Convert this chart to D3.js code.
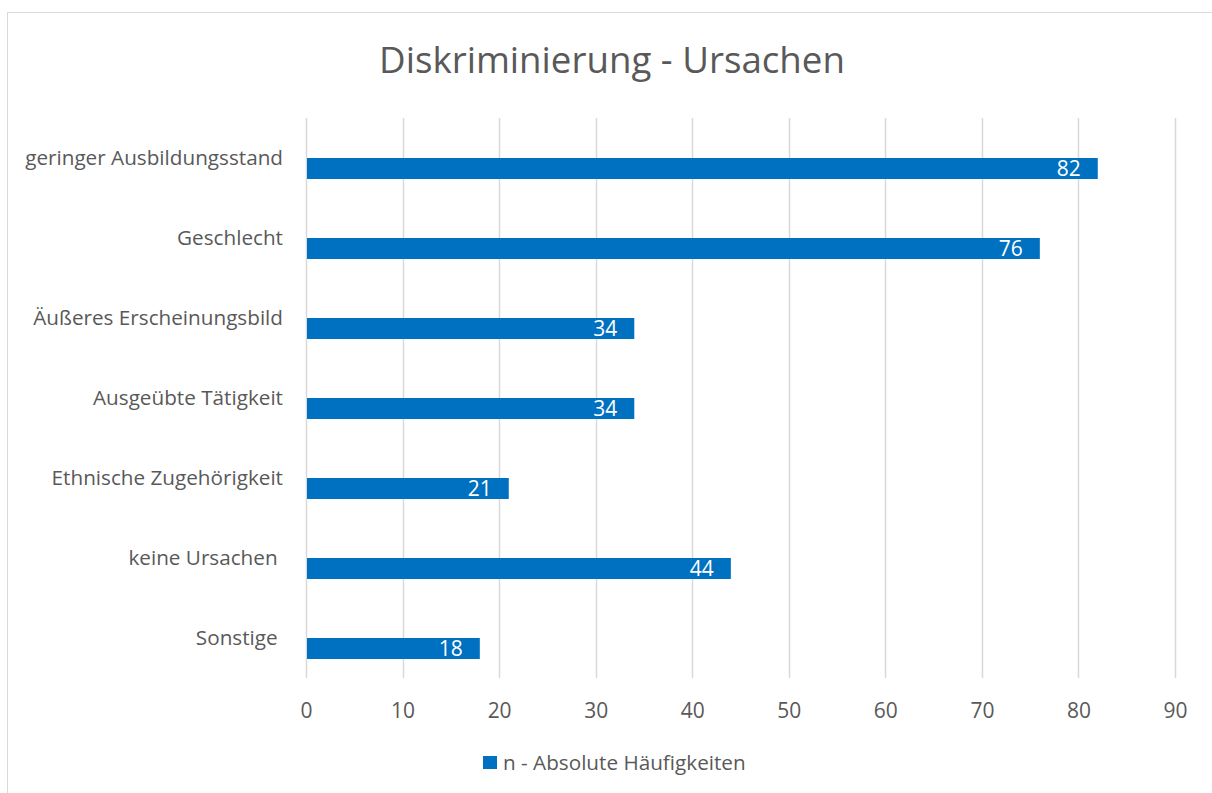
<!DOCTYPE html>
<html>
<head>
<meta charset="utf-8">
<script src="https://cdn.jsdelivr.net/npm/d3@7"></script>
<style>
  html, body { margin: 0; padding: 0; background: #fff; }
  svg { display: block; }
  text { font-family: "Open Sans", sans-serif; }
</style>
</head>
<body>
<svg id="chart" width="1212" height="793"></svg>
<script>
const title = "Diskriminierung - Ursachen";
const categories = [
  "geringer Ausbildungsstand",
  "Geschlecht",
  "Äußeres Erscheinungsbild",
  "Ausgeübte Tätigkeit",
  "Ethnische Zugehörigkeit",
  "keine Ursachen ",
  "Sonstige "
];
const values = [82, 76, 34, 34, 21, 44, 18];
const seriesName = "n - Absolute Häufigkeiten";
const xTicks = [0, 10, 20, 30, 40, 50, 60, 70, 80, 90];

const svg = d3.select("#chart");
const W = 1212, H = 793;
const textColor = "#595959";
const gridColor = "#d9d9d9";
const barColor = "#0070C0";

// fit a font size so a text's width matches the reference width
function fitSize(str, targetWidth) {
  const t = svg.append("text").attr("font-size", 100).style("white-space", "pre").text(str);
  const w = t.node().getComputedTextLength();
  t.remove();
  return 100 * targetWidth / w;
}
const labelSize = fitSize("geringer Ausbildungsstand", 258);
const numSize = fitSize("80", 24);
const titleSize = fitSize(title, 466);

// chart border
svg.append("rect")
  .attr("x", 7.5).attr("y", 12.5)
  .attr("width", W + 10).attr("height", H + 10)
  .attr("fill", "#fff").attr("stroke", gridColor).attr("stroke-width", 1);

const plot = { left: 306, right: 1175, top: 118, bottom: 678 };

const x = d3.scaleLinear().domain([0, 90]).range([plot.left, plot.right]);
const y = d3.scaleBand().domain(categories).range([plot.top, plot.bottom]).padding(0);
// Excel clustered layout with an empty first series: data series sits in the lower half
const sub = d3.scaleBand().domain(["_", "n"]).range([19, y.bandwidth() - 19]).padding(0);

// gridlines
svg.append("g")
  .selectAll("line")
  .data(xTicks)
  .join("line")
  .attr("x1", d => Math.round(x(d)) + 0.5)
  .attr("x2", d => Math.round(x(d)) + 0.5)
  .attr("y1", plot.top)
  .attr("y2", plot.bottom)
  .attr("stroke", gridColor)
  .attr("stroke-width", 1.5);

// x axis tick labels
const xAxis = d3.axisBottom(x).tickValues(xTicks).tickSize(0).tickPadding(0);
const gx = svg.append("g").attr("transform", `translate(0,${plot.bottom + 40})`).call(xAxis);
gx.select(".domain").remove();
gx.selectAll("text")
  .attr("fill", textColor)
  .attr("font-size", numSize)
  .attr("dy", "0")
  .attr("y", 0)
  .style("font-family", "'Open Sans', sans-serif");

// y axis labels
const yAxis = d3.axisLeft(y).tickSize(0).tickPadding(0);
const gy = svg.append("g").attr("transform", `translate(${plot.left - 23},0)`).call(yAxis);
gy.select(".domain").remove();
gy.selectAll("text")
  .attr("fill", textColor)
  .attr("font-size", labelSize)
  .attr("dy", "0.35em")
  .style("white-space", "pre")
  .style("font-family", "'Open Sans', sans-serif");

// bars
svg.append("g")
  .selectAll("rect")
  .data(categories.map((c, i) => ({ c, v: values[i] })))
  .join("rect")
  .attr("x", x(0) + 1)
  .attr("y", d => y(d.c) + sub("n"))
  .attr("width", d => x(d.v) - x(0) - 1)
  .attr("height", sub.bandwidth())
  .attr("fill", barColor);

// data labels
svg.append("g")
  .selectAll("text")
  .data(categories.map((c, i) => ({ c, v: values[i] })))
  .join("text")
  .attr("x", d => x(d.v) - 17)
  .attr("y", d => y(d.c) + sub("n") + sub.bandwidth() / 2)
  .attr("dy", "0.36em")
  .attr("text-anchor", "end")
  .attr("fill", "#fff")
  .attr("font-size", numSize)
  .text(d => d.v);

// title
svg.append("text")
  .attr("x", 612).attr("y", 73)
  .attr("text-anchor", "middle")
  .attr("fill", textColor)
  .attr("font-size", titleSize)
  .text(title);

// legend
const lg = svg.append("g").attr("transform", "translate(483,756)");
lg.append("rect").attr("width", 14).attr("height", 13).attr("fill", barColor);
lg.append("text")
  .attr("x", 20).attr("y", 6.5).attr("dy", "0.35em")
  .attr("fill", textColor).attr("font-size", labelSize)
  .text(seriesName);
</script>
</body>
</html>
